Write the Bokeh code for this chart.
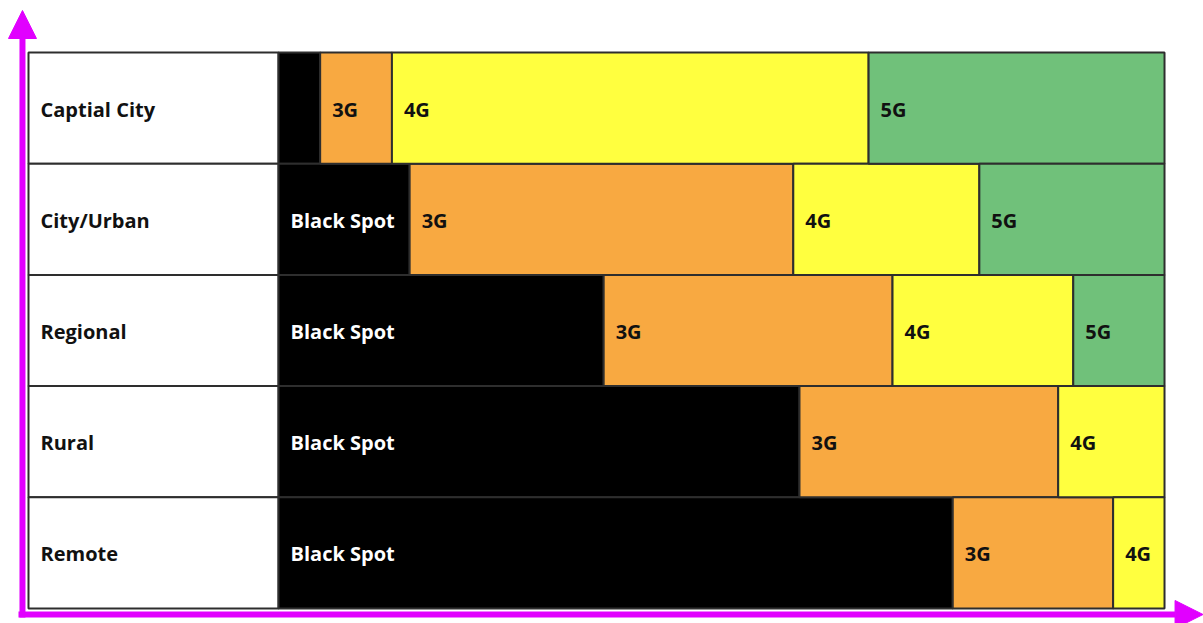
from bokeh.plotting import figure
from bokeh.models import ColumnDataSource, Range1d, Arrow, NormalHead
from bokeh.core.properties import value
from bokeh.embed import file_html
from bokeh.resources import INLINE

# ---- data (percent of each area's coverage) ----
categories = ["Captial City", "City/Urban", "Regional", "Rural", "Remote"]
series_names = ["Black Spot", "3G", "4G", "5G"]
black_spot = [4.7, 14.8, 36.7, 58.8, 76.1]
g3 = [8.1, 43.3, 32.6, 29.2, 18.1]
g4 = [53.8, 21.0, 20.4, 12.0, 5.8]
g5 = [33.4, 20.9, 10.3, 0.0, 0.0]
series_values = [black_spot, g3, g4, g5]
colors = ["#000000", "#f8a941", "#ffff3f", "#70c17a"]
text_colors = ["#ffffff", "#111111", "#111111", "#111111"]

W, H = 1203, 623
FONT = value("Open Sans")

p = figure(width=W, height=H, output_backend="svg", toolbar_location=None,
           x_range=Range1d(-31.38, 104.40), y_range=Range1d(-0.135, 5.468),
           min_border=0, min_border_left=0, min_border_right=0,
           min_border_top=0, min_border_bottom=0)
p.axis.visible = False
p.grid.visible = False
p.outline_line_color = None
p.background_fill_color = "white"
p.border_fill_color = "white"

n = len(categories)
ys = [n - 0.5 - i for i in range(n)]
label_left = -28.22

# label column cells
p.hbar(y=ys, left=label_left, right=0, height=1, fill_color="white",
       line_color="#2e2e2e", line_width=2)
p.text(x=[label_left] * n, y=ys, text=categories, x_offset=12, y_offset=1,
       text_baseline="middle", text_font=FONT, text_font_style="bold",
       text_font_size="20px", text_color="#111111")

# stacked segments
lefts = [0.0] * n
for name, vals, col, tcol in zip(series_names, series_values, colors, text_colors):
    rights = [l + v for l, v in zip(lefts, vals)]
    keep = [i for i in range(n) if vals[i] > 0]
    src = ColumnDataSource(dict(y=[ys[i] for i in keep], left=[lefts[i] for i in keep],
                                right=[rights[i] for i in keep]))
    p.hbar(y="y", left="left", right="right", height=1, source=src,
           fill_color=col, line_color="#2e2e2e", line_width=2)
    lab = [i for i in keep if vals[i] >= 5]
    p.text(x=[lefts[i] for i in lab], y=[ys[i] for i in lab], text=[name] * len(lab),
           x_offset=12, y_offset=1, text_baseline="middle", text_font=FONT,
           text_font_style="bold", text_font_size="20px", text_color=tcol)
    lefts = rights

# magenta axis arrows
mag = "#e100ff"
p.add_layout(Arrow(x_start=-28.90, y_start=-0.08, x_end=-28.90, y_end=5.378,
                   line_color=mag, line_width=6,
                   end=NormalHead(size=28, fill_color=mag, line_color=mag)))
p.add_layout(Arrow(x_start=-29.35, y_start=-0.054, x_end=104.35, y_end=-0.054,
                   line_color=mag, line_width=6,
                   end=NormalHead(size=28, fill_color=mag, line_color=mag)))

open("out.html", "w").write(file_html(p, INLINE))
